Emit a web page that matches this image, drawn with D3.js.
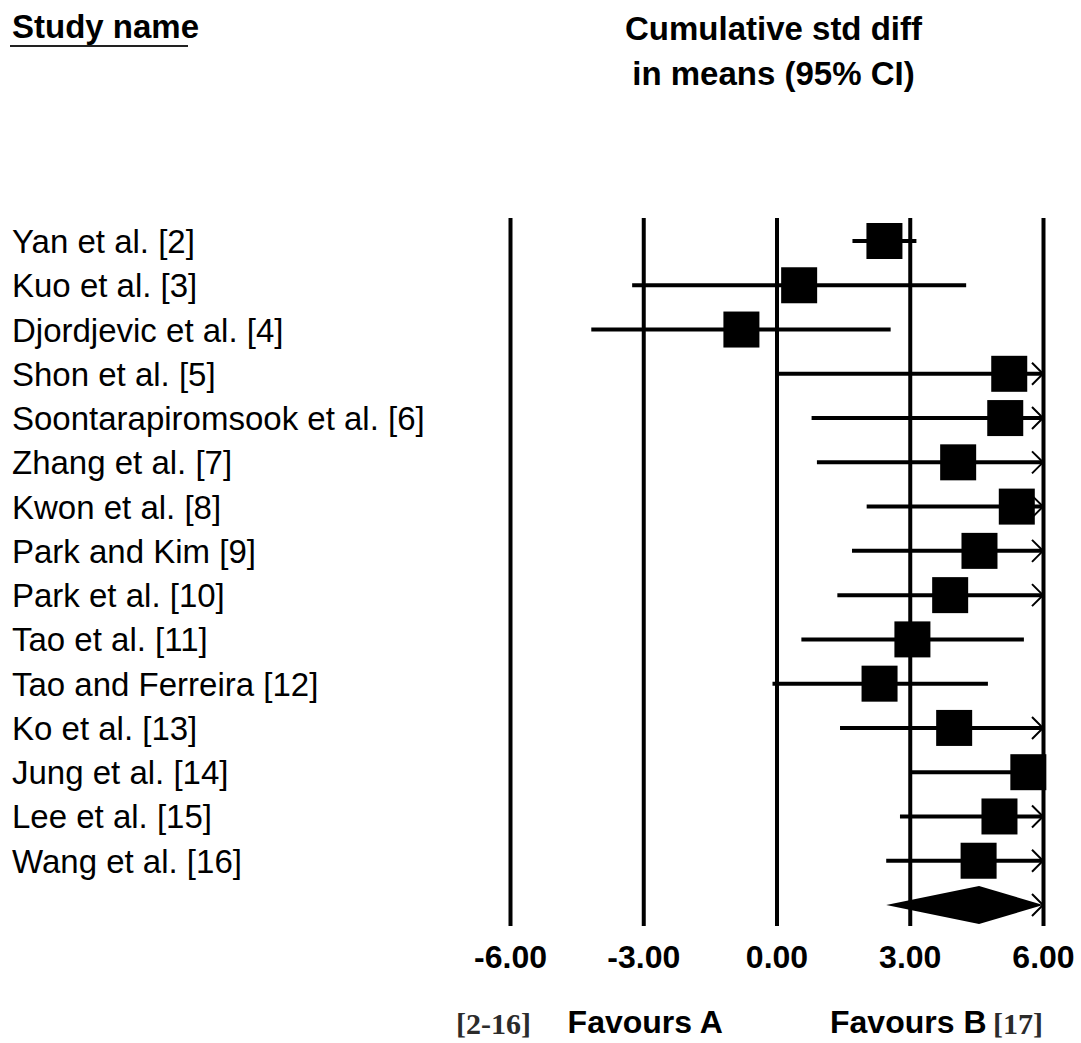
<!DOCTYPE html>
<html>
<head>
<meta charset="utf-8">
<script src="https://cdn.jsdelivr.net/npm/d3@7"></script>
<style>
  body { margin:0; background:#fff; }
  svg { display:block; }
</style>
</head>
<body>
<svg width="1081" height="1043"></svg>
<script>
const STUDIES = ["Yan et al. [2]", "Kuo et al. [3]", "Djordjevic et al. [4]", "Shon et al. [5]",
  "Soontarapiromsook et al. [6]", "Zhang et al. [7]", "Kwon et al. [8]", "Park and Kim [9]",
  "Park et al. [10]", "Tao et al. [11]", "Tao and Ferreira [12]", "Ko et al. [13]",
  "Jung et al. [14]", "Lee et al. [15]", "Wang et al. [16]"];
const POINT = [2.43, 0.51, -0.79, 5.24, 5.15, 4.09, 5.41, 4.57, 3.91, 3.06, 2.32, 4.00, 5.67, 5.02, 4.55];
const LOWER = [1.71, -3.25, -4.17, 0.00, 0.79, 0.91, 2.03, 1.70, 1.37, 0.56, -0.09, 1.43, 3.02, 2.78, 2.47];
const UPPER = [3.15, 4.27, 2.57, 10.48, 9.51, 7.27, 8.79, 7.44, 6.45, 5.57, 4.76, 6.57, 8.32, 7.26, 6.63];
const SUMMARY = {point:4.56, lower:2.47, upper:6.65};
const TICKS = [-6, -3, 0, 3, 6];

const svg = d3.select("svg");
const font = "'Liberation Sans', Arial, sans-serif";
const serif = "'Liberation Serif', 'Times New Roman', serif";

const xScale = d3.scaleLinear().domain([-6, 6]).range([510, 1043]);
const yScale = d3.scalePoint()
  .domain(d3.range(STUDIES.length + 1))
  .range([241, 905]);

const rows = STUDIES.map((name, i) => ({name:name, point:POINT[i], lower:LOWER[i], upper:UPPER[i], i:i}));
const clip = v => Math.max(-6, Math.min(6, v));

// headers
svg.append("text")
  .attr("x", 12).attr("y", 38)
  .attr("font-family", font).attr("font-weight", "bold").attr("font-size", 33)
  .text("Study name");
svg.append("line")
  .attr("x1", 10).attr("x2", 188).attr("y1", 46).attr("y2", 46)
  .attr("stroke", "#222").attr("stroke-width", 2);

svg.append("text")
  .attr("x", xScale(0) - 3).attr("y", 40)
  .attr("text-anchor", "middle")
  .attr("font-family", font).attr("font-weight", "bold").attr("font-size", 33)
  .text("Cumulative std diff");
svg.append("text")
  .attr("x", xScale(0) - 3).attr("y", 85)
  .attr("text-anchor", "middle")
  .attr("font-family", font).attr("font-weight", "bold").attr("font-size", 33)
  .text("in means (95% CI)");

// study names
svg.selectAll(".label")
  .data(rows)
  .enter()
  .append("text")
  .classed("label", true)
  .attr("x", 12)
  .attr("y", d => yScale(d.i) + 12)
  .attr("font-family", font).attr("font-size", 33)
  .text(d => d.name);

// axis with full-height tick lines
const axisY = 926;
const axis = svg.append("g")
  .attr("transform", "translate(0," + axisY + ")")
  .call(d3.axisBottom(xScale)
    .tickValues(TICKS)
    .tickFormat(d => d.toFixed(2))
    .tickSize(-(axisY - 218))
    .tickPadding(19));
axis.select(".domain").remove();
axis.selectAll(".tick line").attr("stroke", "#000").attr("stroke-width", 4);
axis.selectAll(".tick text")
  .attr("font-family", font).attr("font-weight", "bold").attr("font-size", 32)
  .attr("fill", "#000");

// confidence intervals
svg.selectAll(".ci")
  .data(rows)
  .enter()
  .append("line")
  .classed("ci", true)
  .attr("x1", d => xScale(clip(d.lower)))
  .attr("x2", d => xScale(clip(d.upper)))
  .attr("y1", d => yScale(d.i))
  .attr("y2", d => yScale(d.i))
  .attr("stroke", "#000").attr("stroke-width", 4);

// arrows where CI goes past the axis
const arrow = (x, y) => "M" + (x - 11) + "," + (y - 11) + "L" + x + "," + y + "L" + (x - 11) + "," + (y + 11);
svg.selectAll(".arrow")
  .data(rows.filter(d => d.upper > 6).concat(SUMMARY.upper > 6 ? [{upper:SUMMARY.upper, i:STUDIES.length}] : []))
  .enter()
  .append("path")
  .classed("arrow", true)
  .attr("d", d => arrow(xScale(6), yScale(d.i)))
  .attr("fill", "none").attr("stroke", "#000").attr("stroke-width", 2);

// squares
const box = 36;
svg.selectAll(".bar")
  .data(rows)
  .enter()
  .append("rect")
  .classed("bar", true)
  .attr("x", d => xScale(d.point) - box / 2)
  .attr("y", d => yScale(d.i) - box / 2)
  .attr("width", box).attr("height", box)
  .attr("fill", "#000");

// summary diamond
const sy = yScale(STUDIES.length);
svg.append("path")
  .attr("d", d3.line()([
    [xScale(clip(SUMMARY.lower)), sy],
    [xScale(SUMMARY.point), sy - 19],
    [xScale(clip(SUMMARY.upper)), sy],
    [xScale(SUMMARY.point), sy + 19]
  ]) + "Z")
  .attr("fill", "#000");

// footer
svg.append("text")
  .attr("x", 456).attr("y", 1034)
  .attr("font-family", serif).attr("font-weight", "bold")
  .attr("font-size", 30).attr("fill", "#2b2b2b")
  .text("[2-16]");
svg.append("text")
  .attr("x", xScale(-3) + 2).attr("y", 1033)
  .attr("text-anchor", "middle")
  .attr("font-family", font).attr("font-weight", "bold").attr("font-size", 32)
  .text("Favours A");
svg.append("text")
  .attr("x", 830).attr("y", 1033)
  .attr("font-family", font).attr("font-weight", "bold").attr("font-size", 32)
  .text("Favours B");
svg.append("text")
  .attr("x", 993).attr("y", 1034)
  .attr("font-family", serif).attr("font-weight", "bold")
  .attr("font-size", 30).attr("fill", "#2b2b2b")
  .text("[17]");
</script>
</body>
</html>
